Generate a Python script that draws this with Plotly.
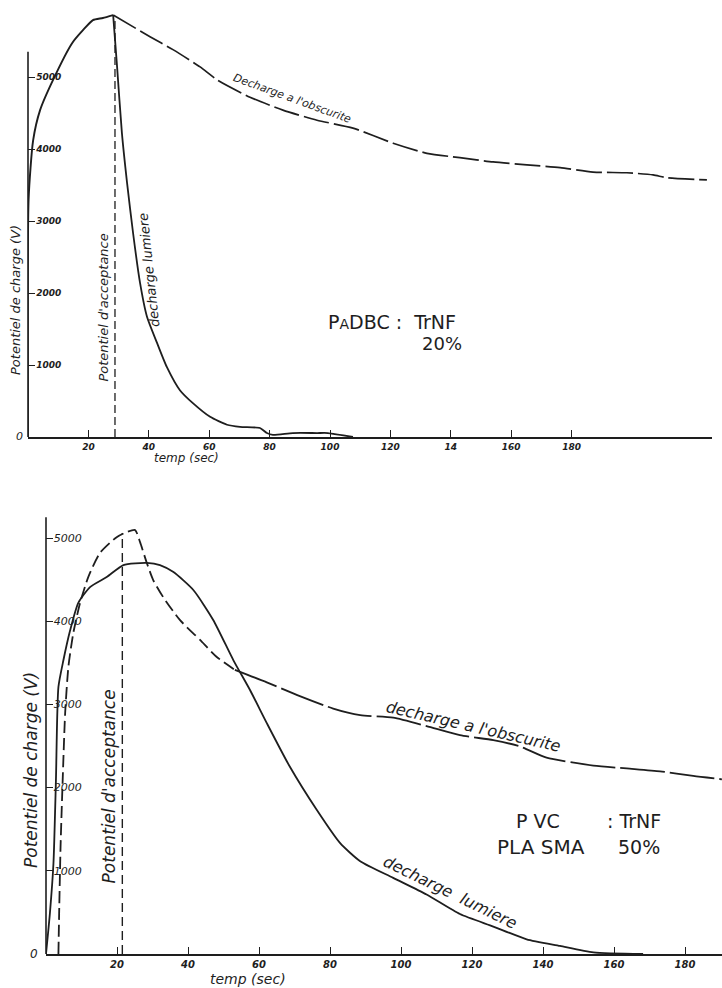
import plotly.graph_objects as go

# ---------------- DATA ----------------
# Top panel : PADBC : TrNF 20%
top_charge_t = [0, 0.2, 1.7, 4.0, 8.3, 14.6, 18.2, 21.5, 24.8, 28.2]
top_charge_v = [0, 3300, 4120, 4540, 4960, 5470, 5650, 5790, 5820, 5860]

top_dark_t = [28.2, 40.4, 48.0, 57.0, 62.6, 73.5, 84.4, 95.7, 107.6, 120.9, 132.1,
              143.0, 154.0, 165.2, 176.2, 187.1, 198.3, 207.0, 211.6, 224.8]
top_dark_v = [5860, 5560, 5380, 5140, 4960, 4720, 4540, 4400, 4290, 4080, 3940,
              3880, 3820, 3780, 3740, 3680, 3670, 3640, 3600, 3570]

top_light_t = [28.2, 29.5, 31.1, 32.8, 34.8, 37.1, 39.4, 42.7, 46.0, 50.3, 54.6,
               60.3, 65.9, 70.2, 76.8, 79.1, 81.1, 87.7, 95.7, 99.3, 107.6]
top_light_v = [5860, 5140, 4220, 3530, 2830, 2140, 1670, 1310, 970, 650, 470,
               280, 170, 140, 125, 55, 30, 55, 55, 55, 0]

top_accept_t = [28.8, 28.8]
top_accept_v = [0, 5800]

top_xtick_vals = [20, 40, 60, 80, 100, 120, 140, 160, 180]
top_xtick_text = ["20", "40", "60", "80", "100", "120", "14", "160", "180"]

# Bottom panel : PVC PLASMA : TrNF 50%
bot_light_t = [0, 1.1, 2.1, 2.8, 3.5, 4.9, 6.8, 9.1, 12.4, 17.1, 21.8, 28.4, 32.1,
               35.9, 41.5, 47.1, 52.8, 57.5, 62.2, 68.7, 76.3, 82.8, 88.5, 97.8,
               107.2, 116.6, 126.0, 135.4, 144.8, 154.2, 168.2]
bot_light_v = [0, 490, 1090, 2090, 3210, 3530, 3890, 4220, 4410, 4530, 4675, 4700,
               4675, 4590, 4375, 4015, 3530, 3170, 2775, 2250, 1730, 1335, 1115,
               915, 715, 480, 330, 177, 97, 20, 0]

bot_charge_t = [3.5, 3.7, 4.1, 4.7, 5.4, 6.3, 7.7, 9.6, 11.9, 15.2, 19.9, 22.7,
                25.1, 26.5, 28.4, 30.2, 33.0, 37.7, 43.4, 48.1, 53.2]
bot_charge_v = [0, 490, 1285, 2090, 2900, 3450, 3860, 4220, 4530, 4820, 5010, 5070,
                5095, 4950, 4700, 4495, 4290, 4015, 3775, 3570, 3415]

bot_dark_t = [53.2, 62.2, 71.5, 80.9, 88.5, 97.8, 107.2, 116.6, 126.0, 133.5,
              141.0, 154.2, 163.6, 173.0, 182.3, 190.4]
bot_dark_v = [3415, 3265, 3100, 2950, 2870, 2840, 2740, 2630, 2570, 2495,
              2360, 2265, 2230, 2195, 2140, 2100]

bot_accept_t = [21.5, 21.5]
bot_accept_v = [0, 5060]

bot_xtick_vals = [20, 40, 60, 80, 100, 120, 140, 160, 180]
bot_xtick_text = ["20", "40", "60", "80", "100", "120", "140", "160", "180"]

ytick_vals = [1000, 2000, 3000, 4000, 5000]
ytick_text = ["1000", "2000", "3000", "4000", "5000"]

# ---------------- LAYOUT GEOMETRY ----------------
W, H = 722, 988
INK = "#1e1e1e"
FONT = "DejaVu Sans"


def fx(p):
    return p / W


def fy(p):
    return 1 - p / H


TOP_L, TOP_R, TOP_B, TOP_T = 28, 712, 437, 5
TOP_XMAX = (TOP_R - TOP_L) / 3.02
TOP_YMAX = (TOP_B - TOP_T) / 0.072
BOT_L, BOT_R, BOT_B, BOT_T = 46, 722, 954, 500
BOT_XMAX = (BOT_R - BOT_L) / 3.55
BOT_YMAX = (BOT_B - BOT_T) / 0.0832

fig = go.Figure()


def line(x, y, xa, ya, dash="solid", width=1.7):
    fig.add_trace(go.Scatter(x=x, y=y, xaxis=xa, yaxis=ya, mode="lines",
                             line=dict(color=INK, width=width, dash=dash, shape="spline",
                                       smoothing=0.6),
                             showlegend=False, hoverinfo="skip"))


line(top_charge_t, top_charge_v, "x", "y", width=1.9)
line(top_dark_t, top_dark_v, "x", "y", dash="26px,5px", width=1.7)
line(top_light_t, top_light_v, "x", "y", width=1.8)
line(top_accept_t, top_accept_v, "x", "y", dash="8px,4px", width=1.3)

line(bot_light_t, bot_light_v, "x2", "y2", width=1.8)
line(bot_charge_t, bot_charge_v, "x2", "y2", dash="12px,5px", width=1.8)
line(bot_dark_t, bot_dark_v, "x2", "y2", dash="45px,5px", width=1.8)
line(bot_accept_t, bot_accept_v, "x2", "y2", dash="9px,5px", width=1.4)

tickfont_top = dict(family=FONT, size=9, color=INK, style="italic", weight="bold")
tickfont_bot = dict(family=FONT, size=10, color=INK, style="italic", weight="bold")

common_x = dict(showline=True, linecolor=INK, linewidth=1.6, ticks="inside", ticklen=7,
                tickwidth=1.4, tickcolor=INK, showgrid=False, zeroline=False,
                fixedrange=True)
common_y = dict(showline=False, ticks="inside", ticklen=7, tickwidth=1.3,
                tickcolor=INK, showgrid=False, zeroline=False,
                ticklabelposition="inside", tickvals=ytick_vals, ticktext=ytick_text,
                fixedrange=True)

fig.update_layout(
    width=W, height=H,
    margin=dict(l=0, r=0, t=0, b=0),
    paper_bgcolor="white", plot_bgcolor="white",
    showlegend=False,
    xaxis=dict(domain=[fx(TOP_L), fx(TOP_R)], range=[0, TOP_XMAX], anchor="y",
               tickvals=top_xtick_vals, ticktext=top_xtick_text, tickfont=tickfont_top,
               **common_x),
    yaxis=dict(domain=[fy(TOP_B), fy(TOP_T)], range=[0, TOP_YMAX], anchor="x",
               tickfont=tickfont_top, **common_y),
    xaxis2=dict(domain=[fx(BOT_L), fx(BOT_R)], range=[0, BOT_XMAX], anchor="y2",
                tickvals=bot_xtick_vals, ticktext=bot_xtick_text, tickfont=tickfont_bot,
                **common_x),
    yaxis2=dict(domain=[fy(BOT_B), fy(BOT_T)], range=[0, BOT_YMAX], anchor="x2",
                tickfont=dict(family=FONT, size=11, color=INK, style="italic"),
                **common_y),
)

# vertical axis lines (hand drawn, shorter than the plotting area)
fig.add_shape(type="line", xref="paper", yref="y", x0=fx(TOP_L), x1=fx(TOP_L),
              y0=0, y1=5350, line=dict(color=INK, width=1.6))
fig.add_shape(type="line", xref="paper", yref="y2", x0=fx(BOT_L), x1=fx(BOT_L),
              y0=0, y1=5250, line=dict(color=INK, width=1.6))

ann = []


def txt(text, x, y, xref, yref, size, angle=0, italic=True, xanchor="center",
        yanchor="middle", family=FONT):
    ann.append(dict(text=text, x=x, y=y, xref=xref, yref=yref, showarrow=False,
                    textangle=angle, xanchor=xanchor, yanchor=yanchor,
                    font=dict(family=family, size=size, color=INK,
                              style="italic" if italic else "normal")))


# top panel texts
txt("0", fx(TOP_L - 3), 0, "paper", "y", 11, xanchor="right")
txt("Potentiel de charge (V)", fx(15), fy(300), "paper", "paper", 13, angle=-90)
txt("temp (sec)", fx(186), fy(458), "paper", "paper", 12)
txt("Potentiel d'acceptance", 25.0, 1790, "x", "y", 13, angle=-90)
txt("decharge lumiere", 40.2, 2320, "x", "y", 13, angle=-96)
txt("Decharge a l'obscurite", 87.5, 4700, "x", "y", 11, angle=20)
txt("P<span style='font-size:14px'>A</span>DBC :  TrNF", fx(392), fy(322),
    "paper", "paper", 19, italic=False, family="DejaVu Sans")
txt("20%", fx(442), fy(344), "paper", "paper", 18, italic=False, family="DejaVu Sans")

# bottom panel texts
txt("0", fx(BOT_L - 6), 0, "paper", "y2", 12, xanchor="right")
txt("Potentiel de charge (V)", fx(31), fy(770), "paper", "paper", 17, angle=-90)
txt("temp (sec)", fx(248), fy(979), "paper", "paper", 14)
txt("Potentiel d'acceptance", 17.6, 2020, "x2", "y2", 17, angle=-90)
txt("decharge a l'obscurite", 120.3, 2730, "x2", "y2", 16, angle=13)
txt("decharge  lumiere", 114.0, 740, "x2", "y2", 16, angle=26)
txt("P VC", fx(538), fy(821), "paper", "paper", 19, italic=False)
txt(": TrNF", fx(634), fy(821), "paper", "paper", 19, italic=False)
txt("PLA SMA", fx(541), fy(847), "paper", "paper", 20, italic=False)
txt("50%", fx(639), fy(847), "paper", "paper", 19, italic=False)

fig.update_layout(annotations=ann)

fig.write_html("out.html")
